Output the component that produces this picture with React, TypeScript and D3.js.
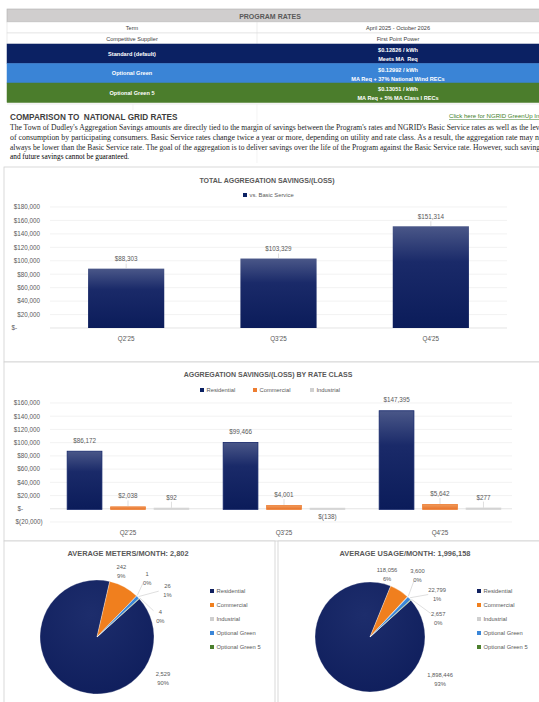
import React from "react";
import * as d3 from "d3";

// ---------- DATA ----------
const tableLabels = ["Term", "Competitive Supplier", "Standard (default)", "Optional Green", "Optional Green 5"];
const tableValues = ["April 2025 - October 2026", "First Point Power", "$0.12826 / kWh", "$0.12992 / kWh", "$0.13051 / kWh"];
const tableNotes = ["", "", "Meets MA  Req", "MA Req + 37% National Wind RECs", "MA Req + 5% MA Class I RECs"];

const paragraphLines = [
  "The Town of Dudley's Aggregation Savings amounts are directly tied to the margin of savings between the Program's rates and NGRID's Basic Service rates as well as the leve",
  "of consumption by participating consumers. Basic Service rates change twice a year or more, depending on utility and rate class. As a result, the aggregation rate may no",
  "always be lower than the Basic Service rate. The goal of the aggregation is to deliver savings over the life of the Program against the Basic Service rate. However, such savings",
  "and future savings cannot be guaranteed.",
];

const quarters = ["Q2'25", "Q3'25", "Q4'25"];
const totalSavings = [88303, 103329, 151314];
const totalTicks = [0, 20000, 40000, 60000, 80000, 100000, 120000, 140000, 160000, 180000];

const rateClasses = ["Residential", "Commercial", "Industrial"];
const residentialSavings = [86172, 99466, 147395];
const commercialSavings = [2038, 4001, 5642];
const industrialSavings = [92, -138, 277];
const classTicks = [-20000, 0, 20000, 40000, 60000, 80000, 100000, 120000, 140000, 160000];

const pieCategories = ["Residential", "Commercial", "Industrial", "Optional Green", "Optional Green 5"];
const avgMeters = [2529, 242, 1, 26, 4];
const avgUsage = [1898446, 118056, 3600, 22799, 2657];
const metersTitle = "AVERAGE METERS/MONTH: 2,802";
const usageTitle = "AVERAGE USAGE/MONTH: 1,996,158";

// ---------- STYLE ----------
const FONT = "'Liberation Sans', Arial, sans-serif";
const SERIF = "'Liberation Serif', 'Times New Roman', serif";
const GRAY_TEXT = "#595959";
const NAVY = "#0b2163";
const ORANGE = "#ED7D31";
const LIGHTGRAY = "#d0d0d0";
const BLUE = "#3a84d6";
const GREEN = "#4b7d2c";
const pieColors = ["#112160", "#F07F1E", "#cfcfcf", "#3a86d8", "#4b7f2d"];

function money(v: number) {
  if (v === 0) return "$-";
  const s = d3.format(",")(Math.abs(v));
  return v < 0 ? `$(${s})` : `$${s}`;
}

function Table() {
  const x0 = 7, xm = 257, x1 = 539;
  const rows = [
    { y: 22, h: 11, fill: "#ffffff", text: "#404040", bold: false },
    { y: 33, h: 11, fill: "#ffffff", text: "#404040", bold: false },
    { y: 44, h: 19.5, fill: NAVY, text: "#ffffff", bold: true },
    { y: 63.5, h: 19.5, fill: BLUE, text: "#ffffff", bold: true },
    { y: 83, h: 19.5, fill: GREEN, text: "#ffffff", bold: true },
  ];
  return (
    <g fontFamily={FONT}>
      <rect x={x0} y={9} width={x1 - x0 + 5} height={13} fill="#d0cece" stroke="#b0b0b0" strokeWidth={0.6} />
      <text x={270} y={18.5} fontSize={7} fill={GRAY_TEXT} textAnchor="middle" fontWeight={600}>PROGRAM RATES</text>
      {rows.map((r, i) => (
        <g key={i}>
          <rect x={x0} y={r.y} width={x1 - x0 + 5} height={r.h} fill={r.fill} stroke={i < 2 ? "#d8d8d8" : r.fill} strokeWidth={0.5} />
          {i < 2 && <line x1={xm} x2={xm} y1={r.y} y2={r.y + r.h} stroke="#d8d8d8" strokeWidth={0.5} />}
          <text x={(x0 + xm) / 2} y={r.y + r.h / 2 + 2} fontSize={5.6} fill={r.text} textAnchor="middle" fontWeight={r.bold ? 700 : 400}>{tableLabels[i]}</text>
          {tableNotes[i] ? (
            <>
              <text x={(xm + x1) / 2} y={r.y + 8} fontSize={5.6} fill={r.text} textAnchor="middle" fontWeight={700}>{tableValues[i]}</text>
              <text x={(xm + x1) / 2} y={r.y + 17} fontSize={5.6} fill={r.text} textAnchor="middle" fontWeight={700} style={{ whiteSpace: "pre" }}>{tableNotes[i]}</text>
            </>
          ) : (
            <text x={(xm + x1) / 2} y={r.y + r.h / 2 + 2} fontSize={5.6} fill={r.text} textAnchor="middle">{tableValues[i]}</text>
          )}
        </g>
      ))}
      <line x1={x0} x2={x1} y1={104} y2={104} stroke="#dcdcdc" strokeWidth={0.6} />
      <line x1={xm} x2={xm} y1={104} y2={163} stroke="#ececec" strokeWidth={0.6} />
      <line x1={133} x2={133} y1={104} y2={110} stroke="#ececec" strokeWidth={0.6} />
    </g>
  );
}

function Comparison() {
  return (
    <g>
      <text x={10} y={120} fontFamily={FONT} fontSize={8.2} fontWeight={700} fill="#404040" style={{ whiteSpace: "pre" }}>COMPARISON TO  NATIONAL GRID RATES</text>
      <text x={449} y={118} fontFamily={FONT} fontSize={5.2} fill="#3f7f2a" textDecoration="underline" textLength={92} lengthAdjust="spacingAndGlyphs">Click here for NGRID GreenUp Inf</text>
      {paragraphLines.map((l, i) => (
        <text key={i} x={10} y={130 + i * 9.8} fontFamily={SERIF} fontSize={7.3} fill={i === 3 ? "#000" : "#262626"}
          textLength={i < 3 ? 533 : undefined} lengthAdjust="spacingAndGlyphs">{l}</text>
      ))}
    </g>
  );
}

function Gradients() {
  return (
    <defs>
      <linearGradient id="navyGrad" x1="0" y1="0" x2="0" y2="1">
        <stop offset="0" stopColor="#4a5788" />
        <stop offset="0.35" stopColor="#1a2a69" />
        <stop offset="1" stopColor="#0b1c5a" />
      </linearGradient>
      <linearGradient id="orangeGrad" x1="0" y1="0" x2="0" y2="1">
        <stop offset="0" stopColor="#f09a5c" />
        <stop offset="1" stopColor="#e8742a" />
      </linearGradient>
      <radialGradient id="pieNavy" cx="0.45" cy="0.3" r="0.8">
        <stop offset="0" stopColor="#1d2d6c" />
        <stop offset="1" stopColor="#0e1d5b" />
      </radialGradient>
    </defs>
  );
}

function TotalChart() {
  const left = 50, right = 507;
  const x = d3.scaleBand<string>().domain(quarters).range([left, right]).paddingInner(0.5).paddingOuter(0.25);
  const y = d3.scaleLinear().domain([0, 180000]).range([328, 207]);
  return (
    <g fontFamily={FONT}>
      <rect x={4} y={167} width={545} height={195} fill="#fff" stroke="#d0d0d0" strokeWidth={0.8} />
      <text x={267} y={183} fontSize={7} fontWeight={700} fill={GRAY_TEXT} textAnchor="middle">TOTAL AGGREGATION SAVINGS/(LOSS)</text>
      <rect x={243} y={193} width={4} height={4} fill={NAVY} />
      <text x={249.5} y={197.2} fontSize={5.8} fill={GRAY_TEXT}>vs. Basic Service</text>
      {totalTicks.map((t) => (
        <g key={t}>
          <line x1={left} x2={right} y1={y(t)} y2={y(t)} stroke={t === 0 ? "#d9d9d9" : "#ececec"} strokeWidth={0.7} />
          <text x={t === 0 ? 17 : 40} y={y(t) + 2.3} fontSize={6.3} fill={GRAY_TEXT} textAnchor="end">{money(t)}</text>
        </g>
      ))}
      {quarters.map((q, i) => {
        const v = totalSavings[i];
        const bx = x(q)!;
        const cx = bx + x.bandwidth() / 2;
        return (
          <g key={q}>
            <rect x={bx} y={y(v)} width={x.bandwidth()} height={y(0) - y(v)} fill="url(#navyGrad)" />
            <line x1={cx} x2={cx} y1={y(v) - 5} y2={y(v)} stroke="#bfbfbf" strokeWidth={0.5} />
            <text x={cx} y={y(v) - 7.5} fontSize={6.3} fill={GRAY_TEXT} textAnchor="middle">{money(v)}</text>
            <text x={cx} y={341} fontSize={6.3} fill={GRAY_TEXT} textAnchor="middle">{q}</text>
          </g>
        );
      })}
    </g>
  );
}

function ClassChart() {
  const left = 50, right = 512;
  const x0 = d3.scaleBand<string>().domain(quarters).range([left, 518]).paddingInner(0.22).paddingOuter(0.11);
  const x1 = d3.scaleBand<string>().domain(rateClasses).range([0, x0.bandwidth()]).paddingInner(0.2);
  const y = d3.scaleLinear().domain([-20000, 160000]).range([522, 403]);
  const series = [residentialSavings, commercialSavings, industrialSavings];
  const fills = ["url(#navyGrad)", "url(#orangeGrad)", LIGHTGRAY];
  const strokes = ["#14266a", ORANGE, "#d6d6d6"];
  const legendColors = [NAVY, ORANGE, LIGHTGRAY];
  const legendX = [200, 253, 310];
  return (
    <g fontFamily={FONT}>
      <rect x={4} y={362} width={545} height={179} fill="#fff" stroke="#d0d0d0" strokeWidth={0.8} />
      <text x={268} y={377} fontSize={7} fontWeight={700} fill={GRAY_TEXT} textAnchor="middle">AGGREGATION SAVINGS/(LOSS) BY RATE CLASS</text>
      {rateClasses.map((c, i) => (
        <g key={c}>
          <rect x={legendX[i]} y={388} width={4} height={4} fill={legendColors[i]} />
          <text x={legendX[i] + 6.5} y={392.2} fontSize={5.8} fill={GRAY_TEXT}>{c}</text>
        </g>
      ))}
      {classTicks.map((t) => (
        <g key={t}>
          <line x1={left} x2={right} y1={y(t)} y2={y(t)} stroke={t === 0 ? "#d9d9d9" : "#ececec"} strokeWidth={0.7} />
          <text x={t === 0 ? 23 : t < 0 ? 42.5 : 40} y={y(t) + 2.3} fontSize={6.3} fill={GRAY_TEXT} textAnchor="end">{money(t)}</text>
        </g>
      ))}
      {quarters.map((q, qi) => (
        <g key={q}>
          {series.map((s, si) => {
            const v = s[qi];
            const bx = x0(q)! + x1(rateClasses[si])!;
            const bw = x1.bandwidth();
            const top = Math.min(y(v), y(0));
            const h = Math.abs(y(v) - y(0));
            const cx = bx + bw / 2;
            const neg = v < 0;
            const ly = neg ? y(0) + 10 : top - 9;
            return (
              <g key={si}>
                <rect x={bx} y={top - 0.6} width={bw} height={h + 1.2} fill={fills[si]} stroke={strokes[si]} strokeWidth={0.8} />
                {!neg && si > 0 && <line x1={cx} x2={cx} y1={ly + 2} y2={top - 1} stroke="#bfbfbf" strokeWidth={0.5} />}
                <text x={cx} y={ly} fontSize={6.3} fill={GRAY_TEXT} textAnchor="middle">{money(v)}</text>
              </g>
            );
          })}
          <text x={x0(q)! + x0.bandwidth() / 2} y={535} fontSize={6.3} fill={GRAY_TEXT} textAnchor="middle">{q}</text>
        </g>
      ))}
    </g>
  );
}

type PieProps = {
  values: number[];
  title: string;
  panelX: number;
  panelW: number;
  cx: number;
  cy: number;
  r: number;
  titleX: number;
  legendX: number;
  labelPlaces: [number, number][];
};

function PieChart({ values, title, panelX, panelW, cx, cy, r, titleX, legendX, labelPlaces }: PieProps) {
  const start = (48 * Math.PI) / 180;
  const pie = d3.pie<number>().sort(null).startAngle(start).endAngle(start + 2 * Math.PI);
  const arcs = pie(values);
  const arc = d3.arc<d3.PieArcDatum<number>>().innerRadius(0).outerRadius(r);
  const total = d3.sum(values);
  return (
    <g fontFamily={FONT}>
      <rect x={panelX} y={541} width={panelW} height={170} fill="#fff" stroke="#d0d0d0" strokeWidth={0.8} />
      <text x={titleX} y={556} fontSize={7.4} fontWeight={700} fill={GRAY_TEXT} textAnchor="middle">{title}</text>
      <g transform={`translate(${cx},${cy})`}>
        {arcs.map((a, i) => (
          <path key={i} d={arc(a)!} fill={i === 0 ? "url(#pieNavy)" : pieColors[i]} stroke="#ffffff" strokeWidth={0.3} />
        ))}
        {arcs.map((a, i) => {
          const [deg, dist] = labelPlaces[i];
          const ang = (deg * Math.PI) / 180;
          const lx = Math.sin(ang) * dist;
          const ly = -Math.cos(ang) * dist;
          const mid = (a.startAngle + a.endAngle) / 2;
          const ax = Math.sin(mid) * (r + 1);
          const ay = -Math.cos(mid) * (r + 1);
          const share = a.data / total;
          const dx = lx - ax, dy = ly - ay;
          const len = Math.hypot(dx, dy);
          const ex = lx - (dx / len) * 9;
          const ey = ly - (dy / len) * 7;
          return (
            <g key={i}>
              {share < 0.02 && <line x1={ax} y1={ay} x2={ex} y2={ey} stroke="#bfbfbf" strokeWidth={0.5} />}
              <text x={lx} y={ly - 1} fontSize={5.8} fill={GRAY_TEXT} textAnchor="middle">{d3.format(",")(a.data)}</text>
              <text x={lx} y={ly + 8} fontSize={5.8} fill={GRAY_TEXT} textAnchor="middle">{`${Math.round(share * 100)}%`}</text>
            </g>
          );
        })}
      </g>
      {pieCategories.map((c, i) => (
        <g key={c}>
          <rect x={legendX} y={589 + i * 14} width={4} height={4} fill={pieColors[i]} />
          <text x={legendX + 6.5} y={593.2 + i * 14} fontSize={5.8} fill={GRAY_TEXT}>{c}</text>
        </g>
      ))}
    </g>
  );
}

export default function App() {
  return (
    <div style={{ position: "absolute", left: 0, top: 0 }}>
      <svg width={539} height={702} viewBox="0 0 539 702" style={{ display: "block", background: "#fff" }}>
        <Gradients />
        <rect x={0} y={0} width={539} height={702} fill="#fff" />
        <Table />
        <Comparison />
        <TotalChart />
        <ClassChart />
        <PieChart values={avgMeters} title={metersTitle} panelX={4} panelW={271} cx={97} cy={637} r={57}
          titleX={128} legendX={210}
          labelPlaces={[[121, 77], [20, 71], [40, 78], [56, 85], [71, 67]]} />
        <PieChart values={avgUsage} title={usageTitle} panelX={278} panelW={270} cx={370} cy={637} r={55}
          titleX={405} legendX={477}
          labelPlaces={[[120, 81], [15, 66], [37, 79], [57, 80], [74, 71]]} />
      </svg>
    </div>
  );
}
